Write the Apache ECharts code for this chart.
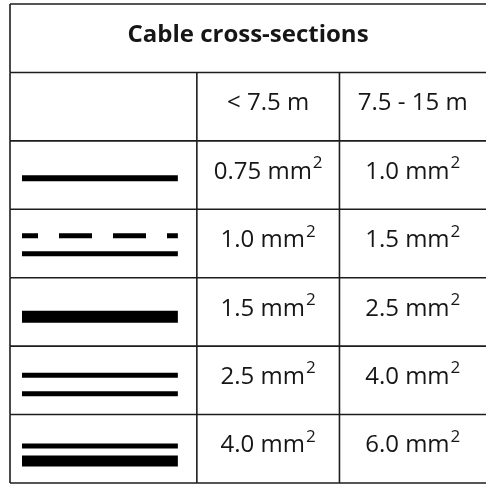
<!DOCTYPE html>
<html>
<head>
<meta charset="utf-8">
<script src="https://cdn.jsdelivr.net/npm/echarts@6/dist/echarts.min.js"></script>
<style>
  html, body { margin: 0; padding: 0; background: #fff; }
  #chart { width: 486px; height: 485px; }
</style>
</head>
<body>
<div id="chart"></div>
<script>
// table content
const tableTitle = 'Cable cross-sections';
const lengthRanges = ['< 7.5 m', '7.5 - 15 m'];
const lineSymbols = ['single', 'dashedDouble', 'thick', 'double', 'doubleThick'];
const sectionShort = ['0.75', '1.0', '1.5', '2.5', '4.0'];
const sectionLong = ['1.0', '1.5', '2.5', '4.0', '6.0'];
const sectionUnit = 'mm';

// layout (x in px along the table, y in rows)
const colEdges = [0, 190, 335, 484];
const rowCount = 2 + lineSymbols.length;
const FONT = '"Open Sans", "Noto Sans", sans-serif';
const BORDER = '#1c1c1c';

// strokes of each line symbol: [offset from row top, thickness, dashed]
const strokes = {
  single: [[37.5, 6]],
  dashedDouble: [[26.5, 5, true], [44.5, 5]],
  thick: [[39, 12]],
  double: [[29, 5], [47.5, 5]],
  doubleThick: [[31.5, 5], [46.5, 11]]
}

const chart = echarts.init(document.getElementById('chart'))

const cellText = (text, x, y, bold) => ({
  type: 'text',
  style: {
    text: text,
    x: x,
    y: y,
    align: 'center',
    verticalAlign: 'middle',
    fill: '#161616',
    fontFamily: FONT,
    fontSize: bold ? 24 : 24,
    fontWeight: bold ? 'bold' : 'normal'
  }
})

const sectionText = (value, x, y) => ({
  type: 'text',
  style: {
    text: '{n|' + value + ' ' + sectionUnit + '}{s|2}',
    x: x,
    y: y,
    align: 'center',
    verticalAlign: 'middle',
    fill: '#161616',
    rich: {
      n: { fontFamily: FONT, fontSize: 24, fill: '#161616' },
      s: { fontFamily: FONT, fontSize: 17, fill: '#161616', padding: [0, 0, 17, 1] }
    }
  }
})

const renderRow = (params, api) => {
  const r = api.value(1)
  const topLeft = api.coord([colEdges[0], r])
  const botRight = api.coord([colEdges[3], r + 1])
  const top = topLeft[1]
  const bottom = botRight[1]
  const xs = colEdges.map(c => api.coord([c, r])[0])
  const children = []
  const line = (x1, y1, x2, y2) => children.push({
    type: 'line',
    shape: { x1, y1, x2, y2 },
    style: { stroke: BORDER, lineWidth: 1.6 }
  })

  // borders
  line(xs[0], top, xs[3], top)
  line(xs[0], top, xs[0], bottom)
  if (r === rowCount - 1) line(xs[0], bottom, xs[3], bottom)
  if (r >= 1) {
    line(xs[1], top, xs[1], bottom)
    line(xs[2], top, xs[2], bottom)
  }

  const textY = top + 31
  if (r === 0) {
    children.push(cellText(tableTitle, (xs[0] + xs[3]) / 2, textY, true))
  } else if (r === 1) {
    children.push(cellText(lengthRanges[0], (xs[1] + xs[2]) / 2, textY))
    children.push(cellText(lengthRanges[1], (xs[2] + xs[3]) / 2, textY))
  } else {
    const i = r - 2
    const x1 = xs[0] + 12
    const x2 = xs[1] - 19
    strokes[lineSymbols[i]].forEach(([dy, w, dashed]) => {
      children.push({
        type: 'line',
        shape: { x1: x1, y1: top + dy, x2: x2, y2: top + dy },
        style: {
          stroke: '#000',
          lineWidth: w,
          lineCap: 'butt',
          lineDash: dashed ? [33, 21] : null,
          lineDashOffset: dashed ? 17 : 0
        }
      })
    })
    children.push(sectionText(sectionShort[i], (xs[1] + xs[2]) / 2, textY))
    children.push(sectionText(sectionLong[i], (xs[2] + xs[3]) / 2, textY))
  }
  return { type: 'group', children: children }
}

const option = {
  animation: false,
  grid: { left: 10, top: 4, width: colEdges[3], height: 479 },
  xAxis: { type: 'value', min: 0, max: colEdges[3], show: false },
  yAxis: { type: 'value', min: 0, max: rowCount, inverse: true, show: false },
  series: [{
    type: 'custom',
    renderItem: renderRow,
    clip: false,
    encode: { x: 0, y: 1 },
    data: Array.from({ length: rowCount }, (_, r) => [0, r])
  }]
}

chart.setOption(option)
</script>
</body>
</html>
